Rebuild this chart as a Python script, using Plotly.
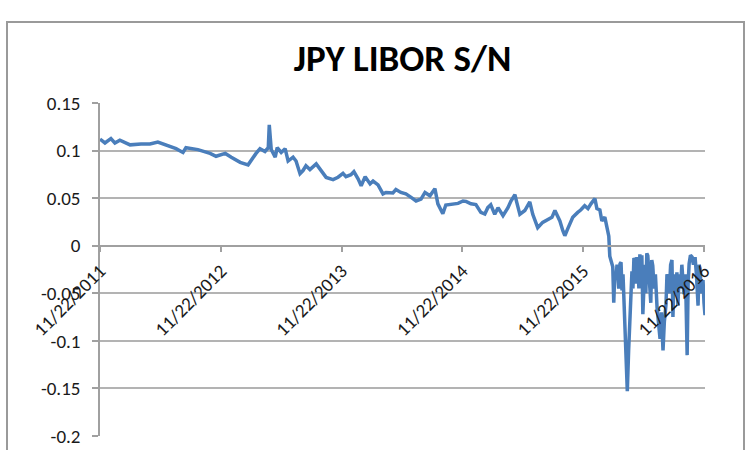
import plotly.graph_objects as go

dates = [
    "2011-11-22", "2011-12-07", "2011-12-25", "2012-01-06", "2012-01-21", "2012-02-06",
    "2012-02-21", "2012-03-25", "2012-04-21", "2012-05-15", "2012-06-15", "2012-07-09",
    "2012-07-30", "2012-08-08", "2012-09-13", "2012-10-20", "2012-11-07", "2012-11-23",
    "2012-12-05", "2012-12-23", "2013-01-19", "2013-02-12", "2013-02-27", "2013-03-08",
    "2013-03-20", "2013-04-04", "2013-04-14", "2013-04-17", "2013-04-23", "2013-05-05",
    "2013-05-11", "2013-05-23", "2013-06-04", "2013-06-13", "2013-06-28", "2013-07-07",
    "2013-07-19", "2013-07-28", "2013-08-06", "2013-08-18", "2013-09-06", "2013-09-21",
    "2013-10-06", "2013-10-27", "2013-11-11", "2013-11-26", "2013-12-05", "2013-12-20",
    "2013-12-29", "2014-01-11", "2014-01-20", "2014-02-01", "2014-02-16", "2014-02-25",
    "2014-03-12", "2014-03-27", "2014-04-05", "2014-04-26", "2014-05-05", "2014-05-20",
    "2014-06-04", "2014-06-20", "2014-07-05", "2014-07-20", "2014-08-01", "2014-08-16",
    "2014-08-31", "2014-09-09", "2014-09-24", "2014-10-03", "2014-10-24", "2014-11-09",
    "2014-11-24", "2014-12-03", "2014-12-18", "2015-01-02", "2015-01-17", "2015-01-29",
    "2015-02-07", "2015-02-16", "2015-02-28", "2015-03-10", "2015-03-25", "2015-04-09",
    "2015-04-18", "2015-04-30", "2015-05-06", "2015-05-15", "2015-05-30", "2015-06-14",
    "2015-06-23", "2015-07-08", "2015-07-23", "2015-08-08", "2015-08-20", "2015-08-29",
    "2015-09-13", "2015-09-22", "2015-09-28", "2015-10-07", "2015-10-22", "2015-11-06",
    "2015-11-15", "2015-11-27", "2015-12-07", "2015-12-16", "2015-12-28", "2016-01-03",
    "2016-01-12", "2016-01-18", "2016-01-27", "2016-02-02", "2016-02-08", "2016-02-11",
    "2016-02-17", "2016-02-20", "2016-02-23", "2016-02-26", "2016-02-29", "2016-03-04",
    "2016-03-09", "2016-03-13", "2016-03-16", "2016-03-19", "2016-03-22", "2016-03-25",
    "2016-03-28", "2016-04-01", "2016-04-04", "2016-04-08", "2016-04-12", "2016-04-18",
    "2016-04-21", "2016-04-24", "2016-04-27", "2016-04-30", "2016-05-03", "2016-05-06",
    "2016-05-09", "2016-05-12", "2016-05-15", "2016-05-18", "2016-05-21", "2016-05-24",
    "2016-05-27", "2016-05-30", "2016-06-02", "2016-06-05", "2016-06-09", "2016-06-14",
    "2016-06-17", "2016-06-20", "2016-06-24", "2016-06-28", "2016-07-03", "2016-07-07",
    "2016-07-12", "2016-07-16", "2016-07-21", "2016-07-25", "2016-07-30", "2016-08-02",
    "2016-08-05", "2016-08-09", "2016-08-13", "2016-08-17", "2016-08-20", "2016-08-24",
    "2016-08-28", "2016-09-01", "2016-09-04", "2016-09-08", "2016-09-12", "2016-09-16",
    "2016-09-22", "2016-09-27", "2016-10-02", "2016-10-05", "2016-10-08", "2016-10-12",
    "2016-10-17", "2016-10-21", "2016-10-26", "2016-10-30", "2016-11-04", "2016-11-07",
    "2016-11-10", "2016-11-14", "2016-11-19", "2016-11-22", "2016-11-25",
]

libor_sn = [
    0.112, 0.108, 0.1125, 0.108, 0.111, 0.108,
    0.106, 0.107, 0.107, 0.109, 0.105, 0.102,
    0.098, 0.103, 0.101, 0.097, 0.094, 0.096,
    0.097, 0.093, 0.0876, 0.085, 0.093, 0.097,
    0.102, 0.099, 0.103, 0.127, 0.101, 0.093,
    0.103, 0.098, 0.102, 0.089, 0.093, 0.089,
    0.0757, 0.079, 0.084, 0.080, 0.086, 0.079,
    0.0718, 0.0694, 0.072, 0.076, 0.0726, 0.0746,
    0.0778, 0.070, 0.063, 0.0726, 0.065, 0.068,
    0.064, 0.0545, 0.056, 0.0555, 0.059, 0.056,
    0.0545, 0.0508, 0.047, 0.049, 0.056, 0.0525,
    0.060, 0.044, 0.0336, 0.0428, 0.044, 0.0445,
    0.047, 0.0466, 0.044, 0.0432, 0.035, 0.0333,
    0.040, 0.043, 0.033, 0.040, 0.0315, 0.040,
    0.047, 0.0536, 0.045, 0.033, 0.037, 0.046,
    0.033, 0.019, 0.0245, 0.027, 0.0298, 0.037,
    0.026, 0.0158, 0.0105, 0.018, 0.0298, 0.035,
    0.0375, 0.042, 0.039, 0.044, 0.0495, 0.039,
    0.0375, 0.026, 0.030, 0.020, 0.010, -0.011,
    -0.0175, -0.022, -0.060, -0.030, -0.035, -0.020,
    -0.045, -0.019, -0.0175, -0.047, -0.030, -0.060,
    -0.085, -0.120, -0.153, -0.110, -0.078, -0.027,
    -0.045, -0.013, -0.015, -0.040, -0.012, -0.017,
    -0.045, -0.009, -0.030, -0.010, -0.072, -0.030,
    -0.020, -0.050, -0.008, -0.0105, -0.040, -0.060,
    -0.015, -0.021, -0.045, -0.030, -0.065, -0.080,
    -0.098, -0.070, -0.110, -0.080, -0.062, -0.030,
    -0.033, -0.050, -0.020, -0.015, -0.075, -0.030,
    -0.050, -0.028, -0.063, -0.030, -0.045, -0.020,
    -0.051, -0.030, -0.115, -0.040, -0.019, -0.010,
    -0.012, -0.020, -0.012, -0.030, -0.063, -0.020,
    -0.024, -0.050, -0.036, -0.060, -0.073,
]

x_tick_dates = ["2011-11-22", "2012-11-22", "2013-11-22", "2014-11-22", "2015-11-22", "2016-11-22"]
x_tick_labels = ["11/22/2011", "11/22/2012", "11/22/2013", "11/22/2014", "11/22/2015", "11/22/2016"]
y_tick_vals = [-0.2, -0.15, -0.1, -0.05, 0, 0.05, 0.1, 0.15]
y_tick_labels = ["-0.2", "-0.15", "-0.1", "-0.05", "0", "0.05", "0.1", "0.15"]

title_text = "JPY LIBOR S/N"

W, H = 747, 450
L, R, T, B = 100, 42, 103, 14
pw, ph = W - L - R, H - T - B

y_min, y_max = -0.2, 0.15
zero_pos = (0 - y_min) / (y_max - y_min)

tick_font = dict(family="Carlito, Liberation Sans, Arial, sans-serif", size=19, color="#1a1a1a")
grid_col = "#b3b3b3"

fig = go.Figure()
fig.add_trace(go.Scatter(
    x=dates, y=libor_sn, mode="lines",
    line=dict(color="#4a7ebb", width=3.5),
    showlegend=False, hoverinfo="x+y",
))

fig.update_layout(
    width=W, height=H,
    margin=dict(l=L, r=R, t=T, b=B, autoexpand=False),
    paper_bgcolor="white", plot_bgcolor="white",
    title=dict(
        text=title_text, x=0.5, xanchor="center", xref="paper",
        y=1 - 58 / H, yanchor="middle",
        font=dict(family="Carlito, Liberation Sans Narrow, Arial Narrow, Liberation Sans, sans-serif",
                  size=37, color="#000000", weight="bold"),
    ),
    xaxis=dict(
        type="date",
        range=["2011-11-22", "2016-11-25"],
        tickmode="array", tickvals=x_tick_dates, ticktext=x_tick_labels,
        tickangle=-45, tickfont=tick_font,
        ticks="outside", ticklen=6, tickcolor="#a0a0a0", tickwidth=1.5,
        showgrid=False, zeroline=False,
        showline=True, linecolor="#a0a0a0", linewidth=1.5,
        anchor="free", position=zero_pos,
    ),
    yaxis=dict(
        range=[y_min, y_max],
        tickmode="array", tickvals=y_tick_vals, ticktext=y_tick_labels,
        tickfont=tick_font,
        ticks="outside", ticklen=6, tickcolor="#a0a0a0", tickwidth=1.5,
        showgrid=True, gridcolor=grid_col, gridwidth=1.5,
        zeroline=False,
        showline=True, linecolor="#a0a0a0", linewidth=1.5,
        ticklabelstandoff=8,
    ),
    shapes=[dict(
        type="rect", xref="paper", yref="paper",
        x0=(7 - L) / pw, x1=(744 - L) / pw,
        y0=-0.2, y1=(H - B - 22) / ph,
        line=dict(color="#9a9a9a", width=2), fillcolor="rgba(0,0,0,0)",
        layer="below",
    )],
)

fig.write_html(
    "out.html",
    config={"displayModeBar": False},
    post_script="document.body.style.margin='0';document.body.style.overflow='hidden';",
)
